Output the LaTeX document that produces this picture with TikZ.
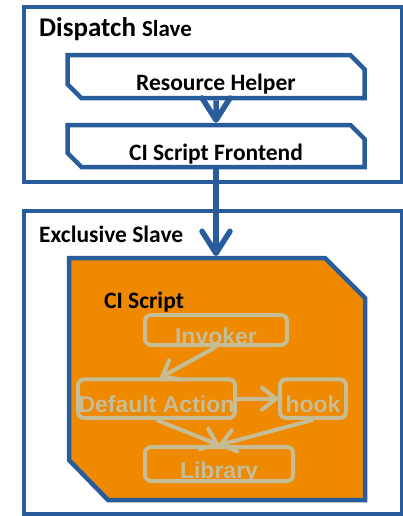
\documentclass[tikz,border=0pt]{standalone}
\usepackage{fontspec}
\setmainfont{Carlito}
\newfontfamily\partfont{Liberation Sans}
\usetikzlibrary{arrows.meta,shapes.misc}

\definecolor{slaveblue}{RGB}{41,92,155}
\definecolor{scriptorange}{RGB}{238,137,0}
\definecolor{parttan}{RGB}{198,189,150}

\tikzset{
  helper/.style={chamfered rectangle, chamfered rectangle corners={north east,south west},
    chamfered rectangle xsep=7pt, chamfered rectangle ysep=7pt, draw=slaveblue, fill=white,
    line width=4.5pt, minimum width=297pt, inner sep=0pt, text height=28pt, text depth=0pt,
    font=\bfseries\fontsize{23.5}{23.5}\selectfont},
  part/.style={draw=parttan, text=parttan, rounded corners=6pt, line width=4pt, inner sep=0pt,
    text height=28pt, text depth=0pt, font=\partfont\bfseries\fontsize{23}{23}\selectfont},
  title/.style={anchor=base west, inner sep=0pt, font=\bfseries\fontsize{23.5}{23.5}\selectfont},
  flow/.style={draw=slaveblue, line width=5.5pt, -{Straight Barb[length=22pt,width=28pt,round]}},
  call/.style={draw=parttan, line width=4pt, -{Straight Barb[length=14pt,width=22pt,round]}}
}

\begin{document}
\begin{tikzpicture}[x=1pt,y=-1pt]
\useasboundingbox[fill=white] (0,0) rectangle (403,516);

% Slaves
\draw[slaveblue, line width=4pt] (24,7) rectangle (402,182);
\draw[slaveblue, line width=4pt] (24,210.5) rectangle (402,514);
\node[title] (dispatch) at (39,37) {\fontsize{27}{27}\selectfont Dispatch \fontsize{23}{23}\selectfont Slave};
\node[title] (exclusive) at (39,242) {Exclusive Slave};

% Dispatch side
\node[helper, minimum height=43pt] (resource) at (216,76.7) {Resource Helper};
\node[helper, minimum height=40.5pt] (frontend) at (216,146) {CI Script Frontend};

% CI Script
\draw[slaveblue, fill=scriptorange, line width=4.5pt, line join=miter]
  (69,258) -- (325,258) -- (365,298) -- (365,500) -- (108,500) -- (69,460) -- cycle;
\coordinate (script) at (216,256);
\node[title] (scriptname) at (104,308) {CI Script};

\node[part, minimum width=142pt, minimum height=30pt] (invoker) at (216,330) {Invoker};
\node[part, minimum width=157pt, minimum height=38.5pt] (default) at (156.5,398.7) {Default Action};
\node[part, minimum width=66pt, minimum height=38.5pt] (hook) at (313,398.7) {hook};
\node[part, minimum width=148pt, minimum height=34pt] (library) at (219,464) {Library};

% Calls
\draw[flow] (resource) -- (frontend);
\draw[flow] (frontend.south) -- (script);
\draw[call] (invoker.south) -- ([xshift=4pt]default.north);
\draw[call] (default) -- (hook);
\draw[call] (default.south) -- (library.north);
\draw[call] (hook.south) -- (library.north);
\end{tikzpicture}
\end{document}
